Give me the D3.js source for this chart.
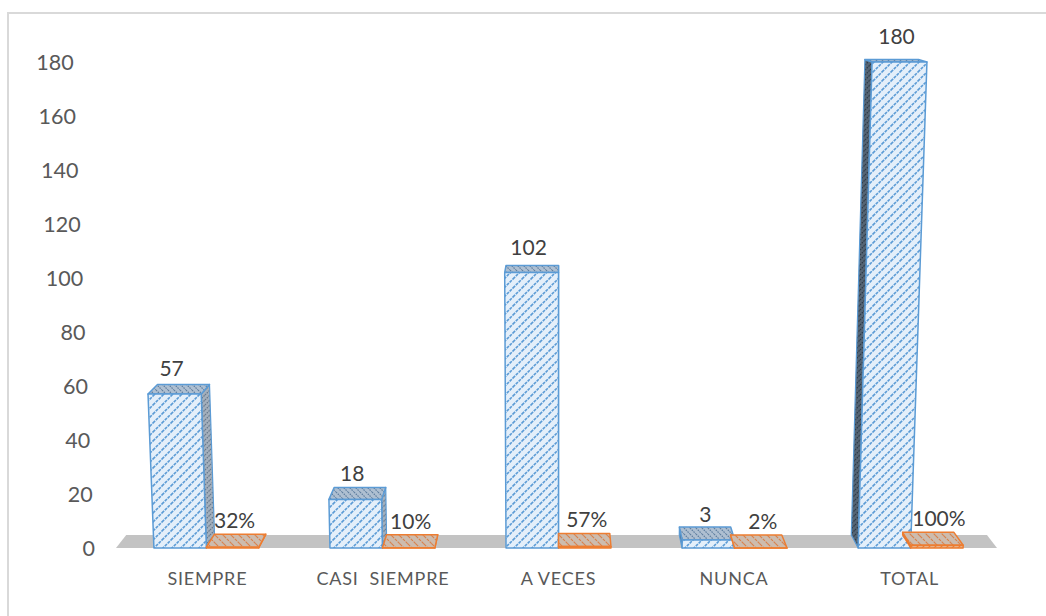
<!DOCTYPE html>
<html>
<head>
<meta charset="utf-8">
<script src="https://cdn.jsdelivr.net/npm/d3@7"></script>
<style>
  html, body { margin: 0; padding: 0; background: #ffffff; }
  svg { display: block; }
  text { font-family: Lato, "Open Sans", sans-serif; }
</style>
</head>
<body>
<svg id="chart" width="1046" height="616"></svg>
<script>
const categories = ["SIEMPRE", "CASI  SIEMPRE", "A VECES", "NUNCA", "TOTAL"];
const frecuencia = [57, 18, 102, 3, 180];
const porcentaje = [0.32, 0.10, 0.57, 0.02, 1.00];
const porcentajeLabels = ["32%", "10%", "57%", "2%", "100%"];
const yTicks = [0, 20, 40, 60, 80, 100, 120, 140, 160, 180];
const seriesNames = ["frecuencia", "porcentaje"];

const W = 1046, H = 616;
const floorY = 548;
const svg = d3.select("#chart");

const y = d3.scaleLinear().domain([0, 180]).range([floorY, 62]);
const x0 = d3.scaleBand().domain(categories).range([118, 999]).paddingInner(0.404).paddingOuter(0.204);
const x1 = d3.scaleBand().domain(seriesNames).range([0, x0.bandwidth()]);

// simple perspective helpers
const cx = 557, k = 9.5e-5;
function P(x, yy) { return [cx + (x - cx) * (1 + k * (floorY - yy)), yy]; }
function B(p) { return [p[0] + 0.023 * (560 - p[0]), p[1] - 0.0216 * (p[1] + 55)]; }
const line = pts => "M" + pts.map(p => p[0].toFixed(2) + "," + p[1].toFixed(2)).join("L") + "Z";

// patterns
const defs = svg.append("defs");
function hatch(id, bg, stroke, dir, size, sw, dash) {
  const p = defs.append("pattern").attr("id", id).attr("patternUnits", "userSpaceOnUse")
    .attr("width", size).attr("height", size);
  p.append("rect").attr("width", size).attr("height", size).attr("fill", bg);
  const s = size;
  const d = dir === "/"
    ? `M-1,1 L1,-1 M0,${s} L${s},0 M${s-1},${s+1} L${s+1},${s-1}`
    : `M-1,${s-1} L1,${s+1} M0,0 L${s},${s} M${s-1},-1 L${s+1},1`;
  const path = p.append("path").attr("d", d).attr("stroke", stroke).attr("stroke-width", sw);
  if (dash) path.attr("stroke-dasharray", dash);
}
hatch("blueFront", "#e4effa", "#5b9bd5", "/", 9, 1.6, "3,1");
hatch("blueTop", "#aebfd1", "#5f7e9f", "\\", 6, 1.2, "1.5,1");
hatch("blueSideR", "#a4b0bd", "#66778a", "/", 5, 1.2, "1.5,1");
hatch("blueSideL", "#556575", "#2c3946", "/", 5, 1.2, "1.5,1");
hatch("orangeTop", "#cdbcae", "#d9804a", "\\", 8, 1.1, "3,1");
hatch("orangeFront", "#e7b08a", "#ed7d31", "/", 6, 1.2, null);

// border
svg.append("path").attr("d", "M8,616 L8,13 L1046,13")
  .attr("fill", "none").attr("stroke", "#d9d9d9").attr("stroke-width", 2);

// floor
const fl = [P(116, floorY), P(997, floorY)];
svg.append("path").attr("d", line([fl[0], fl[1], B(fl[1]), B(fl[0])]))
  .attr("fill", "#c3c3c3");

// y axis labels
svg.append("g").selectAll("text").data(yTicks).join("text")
  .attr("x", d => P(95, y(d))[0])
  .attr("y", d => y(d) + 8)
  .attr("text-anchor", "end")
  .attr("font-size", 21.5)
  .attr("fill", "#595959")
  .text(d => d);

// bars
function box(g, xa, xb, yTop, fills, strokeCol) {
  const FLb = P(xa, floorY), FRb = P(xb, floorY), FRt = P(xb, yTop), FLt = P(xa, yTop);
  const BLb = B(FLb), BRb = B(FRb), BRt = B(FRt), BLt = B(FLt);
  if (BLb[0] < FLb[0]) g.append("path").attr("d", line([FLb, FLt, BLt, BLb]))
    .attr("fill", fills.sideL).attr("stroke", strokeCol).attr("stroke-width", 1.2).attr("stroke-linejoin", "round");
  if (BRb[0] > FRb[0]) g.append("path").attr("d", line([FRb, FRt, BRt, BRb]))
    .attr("fill", fills.sideR).attr("stroke", strokeCol).attr("stroke-width", 1.2).attr("stroke-linejoin", "round");
  g.append("path").attr("d", line([FLt, FRt, BRt, BLt]))
    .attr("fill", fills.top).attr("stroke", strokeCol).attr("stroke-width", 1.5).attr("stroke-linejoin", "round");
  g.append("path").attr("d", line([FLb, FRb, FRt, FLt]))
    .attr("fill", fills.front).attr("stroke", strokeCol).attr("stroke-width", 1.5).attr("stroke-linejoin", "round");
  return (FLt[0] + FRt[0]) / 2;
}

const bars = svg.append("g");
const labels = svg.append("g");
categories.forEach((c, i) => {
  const g = bars.append("g");
  const bx = x0(c) + x1("frecuencia");
  const yb = y(frecuencia[i]);
  const mid = box(g, bx, bx + x1.bandwidth(), yb,
    { front: "url(#blueFront)", top: "url(#blueTop)", sideL: "url(#blueSideL)", sideR: "url(#blueSideR)" }, "#5b9bd5");
  labels.append("text").attr("x", mid - 3).attr("y", yb - 18)
    .attr("text-anchor", "middle").attr("font-size", 21).attr("fill", "#404040")
    .text(frecuencia[i]);

  const ox = x0(c) + x1("porcentaje");
  const yo = y(porcentaje[i]);
  const midO = box(g, ox, ox + x1.bandwidth(), yo,
    { front: "url(#orangeFront)", top: "url(#orangeTop)", sideL: "#c56a2c", sideR: "#c56a2c" }, "#ed7d31");
  labels.append("text").attr("x", midO + 2).attr("y", yo - 19)
    .attr("text-anchor", "middle").attr("font-size", 21).attr("fill", "#404040")
    .text(porcentajeLabels[i]);
});

// category labels
svg.append("g").selectAll("text").data(categories).join("text")
  .attr("x", d => P(x0(d) + x0.bandwidth() / 2, 578)[0])
  .attr("y", 585)
  .attr("text-anchor", "middle")
  .attr("font-size", 18)
  .attr("letter-spacing", 0.8)
  .attr("fill", "#595959")
  .style("white-space", "pre")
  .text(d => d);
</script>
</body>
</html>
